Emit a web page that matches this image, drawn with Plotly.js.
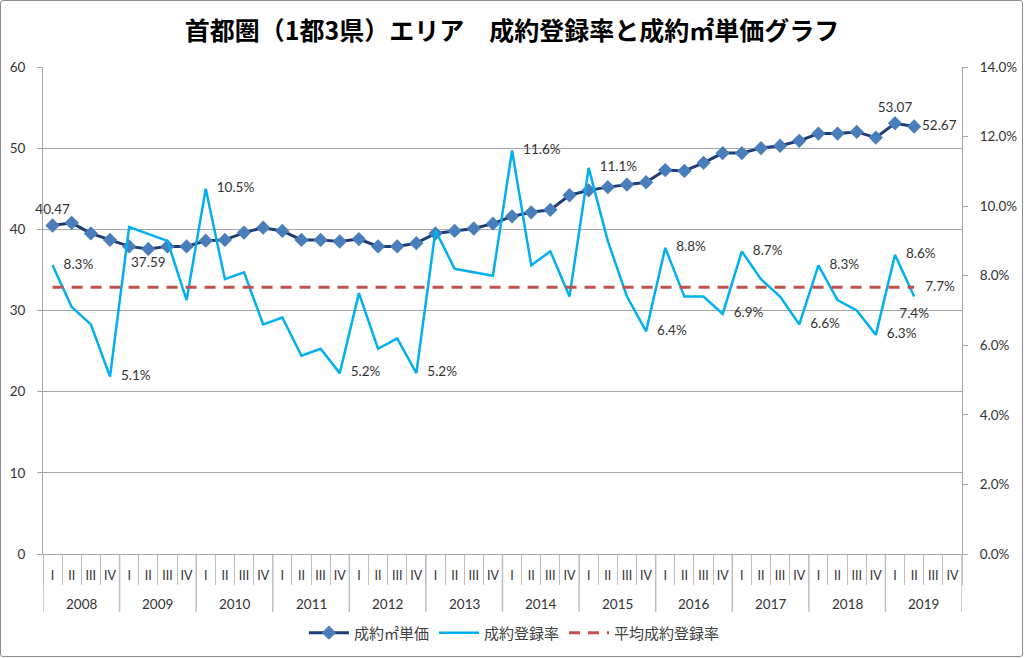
<!DOCTYPE html>
<html>
<head>
<meta charset="utf-8">
<script src="https://cdn.plot.ly/plotly-3.0.1.min.js"></script>
<style>
  html, body { margin: 0; padding: 0; background: #fff; }
  #wrap { position: relative; width: 1024px; height: 658px; }
  #chart { width: 1024px; height: 658px; }
  #frame { position: absolute; left: 0; top: 0; width: 1021px; height: 655px; border: 1.5px solid #8c8c8c; border-radius: 3px; pointer-events: none; box-sizing: content-box; }
</style>
</head>
<body>
<div id="wrap"><div id="chart"></div><div id="frame"></div></div>
<script>
// ---- data ----
const years = ['2008','2009','2010','2011','2012','2013','2014','2015','2016','2017','2018','2019'];
const quarters = ['I','II','III','IV'];

// 成約㎡単価 (万円), 2008 I .. 2019 II
const price = [40.47, 40.8, 39.5, 38.7, 37.9, 37.59, 37.9, 37.9, 38.6, 38.7,
               39.6, 40.2, 39.8, 38.7, 38.7, 38.5, 38.8, 37.9, 37.9, 38.3,
               39.5, 39.8, 40.1, 40.7, 41.6, 42.1, 42.4, 44.2, 44.8, 45.2,
               45.5, 45.8, 47.3, 47.2, 48.2, 49.4, 49.4, 50.0, 50.3, 50.9,
               51.8, 51.8, 52.0, 51.3, 53.07, 52.67];

// 成約登録率 (%), 2008 I .. 2019 II
const rate = [8.3, 7.1, 6.6, 5.1, 9.4, 9.2, 9.0, 7.3, 10.5, 7.9,
              8.1, 6.6, 6.8, 5.7, 5.9, 5.2, 7.5, 5.9, 6.2, 5.2,
              9.3, 8.2, 8.1, 8.0, 11.6, 8.3, 8.7, 7.4, 11.1, 9.0,
              7.4, 6.4, 8.8, 7.4, 7.4, 6.9, 8.7, 7.9, 7.4, 6.6,
              8.3, 7.3, 7.0, 6.3, 8.6, 7.4];

// 平均成約登録率 (%)
const avgRate = 7.67;

// labelled points (index into the series)
const priceLabelIdx = [0, 5, 44, 45];
const rateLabelIdx = [0, 3, 8, 15, 19, 24, 28, 31, 32, 35, 36, 39, 40, 43, 44, 45];

// ---- build ----
const xCat = [], xQ = [];
years.forEach(y => quarters.forEach(q => { xCat.push(y + ' ' + q); xQ.push(q); }));
const N = xCat.length;
const pad = arr => arr.concat(new Array(N - arr.length).fill(null));

const pricePos = {0: 'top center', 5: 'bottom center', 44: 'top center', 45: 'middle right'};
const ratePosDefault = 'middle right';
const ratePosOverride = {45: 'bottom center'};

const priceText = [], pricePosArr = [];
for (let i = 0; i < N; i++) {
  if (priceLabelIdx.includes(i)) { priceText.push(price[i].toFixed(2)); pricePosArr.push(pricePos[i]); }
  else { priceText.push(''); pricePosArr.push('top center'); }
}
const rateText = [], ratePosArr = [];
for (let i = 0; i < N; i++) {
  if (rateLabelIdx.includes(i)) { rateText.push(rate[i].toFixed(1) + '%'); ratePosArr.push(ratePosOverride[i] || ratePosDefault); }
  else { rateText.push(''); ratePosArr.push('middle right'); }
}
const avgY = [], avgText = [];
for (let i = 0; i < N; i++) {
  avgY.push(i < rate.length ? avgRate : null);
  avgText.push(i === rate.length - 1 ? avgRate.toFixed(1) + '%' : '');
}

const numFont = 'Lato, "Noto Sans CJK JP", sans-serif';
const jpFont = '"Noto Sans CJK JP", sans-serif';

const traces = [
  {
    name: '成約㎡単価', x: xCat, y: pad(price), yaxis: 'y',
    type: 'scatter', mode: 'lines+markers+text',
    line: {color: '#1F3C74', width: 3},
    marker: {symbol: 'diamond', size: 11, color: '#4A7EBB'},
    text: priceText, textposition: pricePosArr,
    textfont: {family: numFont, size: 13.5, color: '#333'},
    cliponaxis: false, hoverinfo: 'skip'
  },
  {
    name: '成約登録率', x: xCat, y: pad(rate), yaxis: 'y2',
    type: 'scatter', mode: 'lines+markers+text',
    line: {color: '#00B0F0', width: 2.5},
    marker: {size: 16, color: 'rgba(0,0,0,0)'},
    text: rateText, textposition: ratePosArr,
    textfont: {family: numFont, size: 13.5, color: '#333'},
    cliponaxis: false, hoverinfo: 'skip'
  },
  {
    name: '平均成約登録率', x: xCat, y: avgY, yaxis: 'y2',
    type: 'scatter', mode: 'lines+markers+text',
    line: {color: '#C0504D', width: 3, dash: '11px,8px'},
    marker: {size: 16, color: 'rgba(0,0,0,0)'},
    text: avgText, textposition: 'middle right',
    textfont: {family: numFont, size: 13.5, color: '#333'},
    cliponaxis: false, hoverinfo: 'skip'
  }
];

// year labels and year dividers below the quarter labels
const plotH = 658 - 67 - 104;
const yearLabelY = -50 / plotH;
const dividerBottom = -58 / plotH;
const annotations = years.map((y, i) => ({
  text: y, x: i * 4 + 1.5, xref: 'x', y: yearLabelY, yref: 'paper',
  xanchor: 'center', yanchor: 'middle', showarrow: false,
  font: {family: numFont, size: 13.5, color: '#333'}
}));
const shapes = [];
for (let i = 0; i <= years.length; i++) {
  shapes.push({
    type: 'line', xref: 'x', yref: 'paper', x0: i * 4 - 0.5, x1: i * 4 - 0.5, y0: 0, y1: dividerBottom,
    line: {color: '#bfbfbf', width: 1.5}, layer: 'below'
  });
}

const gridC = '#a6a6a6';
const layout = {
  width: 1024, height: 658,
  margin: {l: 43, r: 62, t: 67, b: 104, pad: 0, autoexpand: false},
  paper_bgcolor: '#fff', plot_bgcolor: '#fff',
  title: {
    text: '<b>首都圏（1都3県）エリア　成約登録率と成約㎡単価グラフ</b>',
    font: {family: jpFont, size: 25, color: '#000'},
    x: 0.5, xref: 'container', xanchor: 'center',
    y: 1 - 31 / 658, yref: 'container', yanchor: 'middle'
  },
  showlegend: true,
  legend: {
    orientation: 'h', x: 0.513, xanchor: 'center', y: -0.162, yanchor: 'middle',
    font: {family: jpFont, size: 15, color: '#404040'},
    itemwidth: 40, traceorder: 'normal'
  },
  annotations: annotations,
  shapes: shapes,
  xaxis: {
    type: 'category', range: [-0.5, N - 0.5], automargin: false,
    tickmode: 'array', tickvals: xCat, ticktext: xQ,
    showgrid: false, zeroline: false,
    showline: true, linecolor: gridC, linewidth: 1,
    ticks: 'outside', tickson: 'boundaries', ticklen: 30, tickcolor: '#bfbfbf', tickwidth: 1,
    tickangle: 0, ticklabelstandoff: 10,
    tickfont: {family: numFont, size: 12.5, color: '#333'}
  },
  yaxis: {
    range: [0, 60], dtick: 10, tick0: 0, automargin: false,
    showgrid: true, gridcolor: gridC, gridwidth: 1,
    zeroline: false, showline: true, linecolor: gridC, linewidth: 1,
    ticks: 'outside', ticklen: 5, tickcolor: gridC, ticklabelstandoff: 9,
    tickfont: {family: numFont, size: 13.5, color: '#333'}
  },
  yaxis2: {
    overlaying: 'y', side: 'right', range: [0, 14], dtick: 2, tick0: 0, automargin: false,
    tickformat: '.1f', ticksuffix: '%',
    showgrid: false, zeroline: false, showline: true, linecolor: gridC, linewidth: 1,
    ticks: 'outside', ticklen: 5, tickcolor: gridC, ticklabelstandoff: 9,
    tickfont: {family: numFont, size: 13.5, color: '#333'}
  }
};

Plotly.newPlot('chart', traces, layout, {displayModeBar: false, staticPlot: true});
</script>
</body>
</html>
